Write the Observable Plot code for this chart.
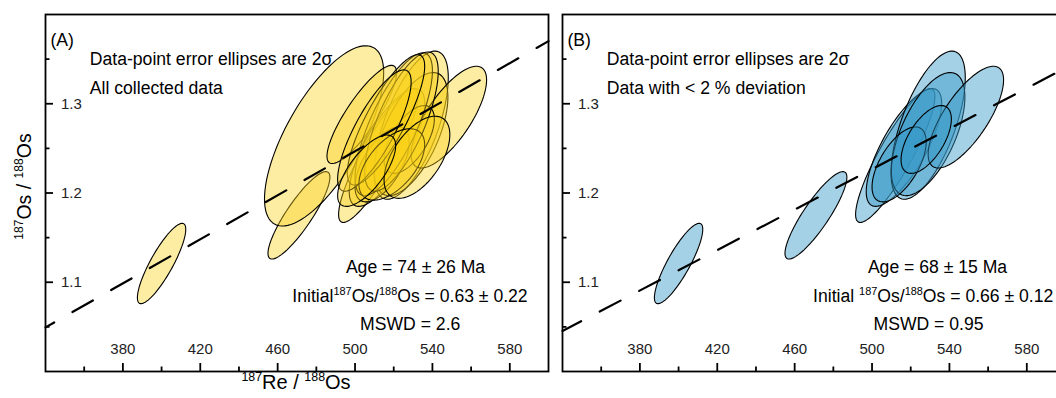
<!DOCTYPE html>
<html><head><meta charset="utf-8">
<script src="https://cdn.jsdelivr.net/npm/d3@7"></script>
<script src="https://cdn.jsdelivr.net/npm/@observablehq/plot@0.6"></script>
<style>
html,body{margin:0;padding:0;background:#fff;overflow:hidden;width:1056px;height:398px;}
#wrap{position:relative;width:1056px;height:398px;overflow:hidden;font-family:"Liberation Sans",Arial,sans-serif;}
.panel{position:absolute;top:0;}
</style></head><body><div id="wrap"></div>
<script>
// ---- data: 187Re/188Os vs 187Os/188Os isochron, error ellipses are 2 sigma ----
const reRatio  = [400.0, 471.0, 484.0, 503.5, 512.0, 516.5, 529.0, 529.0, 548.5, 514.0, 528.0, 520.0, 524.0, 516.0, 510.0, 519.0, 532.0, 506.0];
const reErr2s  = [ 12.5,  16.0,  30.8,  18.0,  20.5,  19.5,  19.2,  19.0,  19.5,  14.0,  13.0,  20.0,  19.0,  20.0,  19.0,  17.0,  17.0,  15.0];
const osRatio  = [1.121, 1.175, 1.264, 1.288, 1.242, 1.251, 1.276, 1.266, 1.285, 1.232, 1.260, 1.277, 1.280, 1.282, 1.270, 1.232, 1.240, 1.225];
const osErr2s  = [0.045, 0.049, 0.101, 0.055, 0.075, 0.066, 0.083, 0.069, 0.057, 0.042, 0.038, 0.080, 0.078, 0.073, 0.068, 0.040, 0.046, 0.040];
const errCorr  = [0.85, 0.87, 0.70, 0.85, 0.88, 0.75, 0.64, 0.60, 0.73, 0.60, 0.60, 0.75, 0.72, 0.82, 0.80, 0.55, 0.55, 0.70];
const lowDeviation = [true, true, false, false, true, true, true, true, true, true, true, false, false, false, false, false, false, false];

const panelIds    = ["(A)", "(B)"];
const panelNotes  = ["All collected data", "Data with < 2 % deviation"];
const ellipseNote = "Data-point error ellipses are 2σ";
const isoAge        = [74, 68];
const isoAgeErr     = [26, 15];
const isoInitial    = [0.63, 0.66];
const isoInitialErr = [0.22, 0.12];
const isoMSWD       = ["2.6", "0.95"];
const initialLabel  = ["Initial^187Os/^188Os", "Initial ^187Os/^188Os"];
const xLabel = "^187Re / ^188Os";
const yLabel = "^187Os / ^188Os";

const xMajorTicks = [380, 420, 460, 500, 540, 580];
const xMinorTicks = [360, 400, 440, 480, 520, 560];
const yMajorTicks = [1.1, 1.2, 1.3];
const yMinorTicks = [1.05, 1.15, 1.25, 1.35];
const xDomain = [340, 600];
const yDomain = [1.0, 1.4];
const lambda187Re = 1.666e-11; // per year

// ---- styles ----
const fills = ["#f9d219", "#3799c7"];
const fillAlpha = [0.4, 0.45];
const dashOffset = [13.5, 2.5];
const ageDx = [370, 375], initDx = [364.5, 370.7], mswdDx = [364.7, 366];
const FS = 17.6;

function ellipsePts(i) {
  const pts = [], n = 96, r = errCorr[i], s = Math.sqrt(1 - r * r);
  for (let k = 0; k < n; k++) {
    const t = 2 * Math.PI * k / n;
    pts.push({id: i,
      x: reRatio[i] + reErr2s[i] * Math.cos(t),
      y: osRatio[i] + osErr2s[i] * (r * Math.cos(t) + s * Math.sin(t))});
  }
  return pts;
}

function supify(svg) {
  d3.select(svg).selectAll("text").each(function () {
    const t = this.textContent;
    if (!t.includes("^")) return;
    const fs = parseFloat(getComputedStyle(this).fontSize) || 17;
    const parts = t.split(/(\^\d+)/).filter(p => p.length);
    this.textContent = "";
    const sel = d3.select(this);
    for (const p of parts) {
      const sup = p.startsWith("^");
      const ts = sel.append("tspan").text(sup ? p.slice(1) : p);
      if (sup) ts.attr("font-size", (fs * 0.62) + "px").attr("baseline-shift", (fs * 0.4) + "px");
    }
  });
}

function panel(p) {
  const idx = reRatio.map((_, i) => i).filter(i => p === 0 || lowDeviation[i]);
  const pts = idx.flatMap(ellipsePts);
  const slope = Math.expm1(lambda187Re * isoAge[p] * 1e6);
  const iso = xDomain.map(x => ({x, y: isoInitial[p] + slope * x}));
  const ml = p === 0 ? 45 : 22, mr = p === 0 ? 8 : 15, w = p === 0 ? 556 : 540;
  const mt = 14, mb = 27, h = 398;
  const H = h - mt - mb, W = w - ml - mr;
  const marks = [
    Plot.line(pts, {x: "x", y: "y", z: "id", curve: "linear-closed", fill: fills[p], fillOpacity: fillAlpha[p], stroke: "black", strokeWidth: 1.1}),
    Plot.line(iso, {x: "x", y: "y", stroke: "black", strokeWidth: 2.2, strokeDasharray: "23.5,21", strokeDashoffset: dashOffset[p]}),
    Plot.ruleX(xMajorTicks, {insetTop: H - 8, strokeWidth: 1.8}),
    Plot.ruleX(xMinorTicks, {insetTop: H - 4.5, strokeWidth: 1.8}),
    Plot.ruleY(yMajorTicks, {insetRight: W - 8, strokeWidth: 1.8}),
    Plot.ruleY(yMinorTicks, {insetRight: W - 4.5, strokeWidth: 1.8}),
    Plot.frame({strokeWidth: 1.8}),
    Plot.text(xMajorTicks, {x: d => d, frameAnchor: "bottom", dy: -17.5, text: d => String(d), fontSize: 15, fill: "#222"}),
    Plot.text(yMajorTicks, {y: d => d, frameAnchor: "left", dx: 15.5, textAnchor: "start", text: d => d.toFixed(1), fontSize: 15, fill: "#222"}),
    Plot.text([panelIds[p]], {frameAnchor: "top-left", dx: 5, dy: 19, textAnchor: "start", fontSize: FS}),
    Plot.text([ellipseNote], {frameAnchor: "top-left", dx: 44.3, dy: 37.9, textAnchor: "start", fontSize: FS}),
    Plot.text([panelNotes[p]], {frameAnchor: "top-left", dx: 44.3, dy: 66.6, textAnchor: "start", fontSize: FS}),
    Plot.text([`Age = ${isoAge[p]} ± ${isoAgeErr[p]} Ma`], {frameAnchor: "top-left", dx: ageDx[p], dy: 245.6, textAnchor: "middle", fontSize: FS}),
    Plot.text([`${initialLabel[p]} = ${isoInitial[p].toFixed(2)} ± ${isoInitialErr[p].toFixed(2)}`], {frameAnchor: "top-left", dx: initDx[p], dy: 274.9, textAnchor: "middle", fontSize: FS}),
    Plot.text([`MSWD = ${isoMSWD[p]}`], {frameAnchor: "top-left", dx: mswdDx[p], dy: 303.3, textAnchor: "middle", fontSize: FS})
  ];
  if (p === 0) {
    marks.push(Plot.text([xLabel], {frameAnchor: "bottom", dx: -1, dy: 17.5, textAnchor: "middle", fontSize: 20}));
    marks.push(Plot.text([yLabel], {frameAnchor: "left", dx: -21, dy: -6.5, rotate: -90, textAnchor: "middle", fontSize: 19.5}));
  }
  const svg = Plot.plot({
    width: w, height: h, marginLeft: ml, marginRight: mr, marginTop: mt, marginBottom: mb,
    x: {domain: xDomain, axis: null},
    y: {domain: yDomain, axis: null},
    style: {fontFamily: "'Liberation Sans', Arial, sans-serif", background: "transparent", overflow: "visible", maxWidth: "none", color: "black"},
    marks
  });
  const div = document.createElement("div");
  div.className = "panel";
  div.style.left = (p === 0 ? 0 : 540) + "px";
  div.appendChild(svg);
  document.getElementById("wrap").appendChild(div);
  supify(svg);
}
panel(0);
panel(1);
</script></body></html>
